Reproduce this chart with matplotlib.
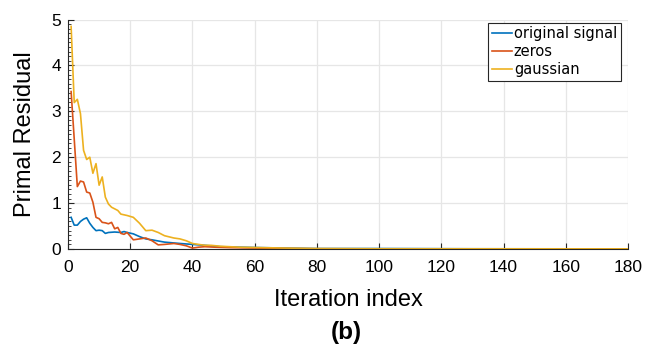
import matplotlib
matplotlib.use('Agg')
import matplotlib.pyplot as plt
from matplotlib.ticker import MultipleLocator

# Iteration index / primal residual
orig_x = [1, 2, 3, 4, 5, 6, 7, 8, 9, 10, 11, 12, 13, 15, 17, 18, 19, 21, 23, 25,
          27, 31, 36, 40, 44, 49, 55, 62, 70, 80, 100, 130, 180]
orig_y = [0.69, 0.52, 0.52, 0.60, 0.65, 0.68, 0.56, 0.47, 0.40, 0.41, 0.40, 0.34,
          0.36, 0.37, 0.36, 0.38, 0.36, 0.33, 0.27, 0.22, 0.20, 0.15, 0.12, 0.10,
          0.08, 0.05, 0.04, 0.03, 0.02, 0.01, 0.01, 0.005, 0.003]

zeros_x = [1, 3, 4, 5, 6, 7, 8, 9, 10, 11, 12, 13, 14, 15, 16, 17, 18, 19, 21, 23,
           25, 27, 29, 31, 34, 36, 38, 40, 42, 44, 47, 52, 60, 70, 80, 100, 180]
zeros_y = [3.43, 1.36, 1.48, 1.46, 1.24, 1.22, 1.02, 0.69, 0.66, 0.58, 0.57, 0.55,
           0.58, 0.44, 0.47, 0.34, 0.32, 0.36, 0.20, 0.22, 0.24, 0.18, 0.09, 0.10,
           0.12, 0.10, 0.07, 0.02, 0.04, 0.05, 0.04, 0.03, 0.02, 0.01, 0.005,
           0.003, 0.002]

gauss_x = [1, 2, 3, 4, 5, 6, 7, 8, 9, 10, 11, 12, 13, 14, 16, 17, 19, 21, 23, 25,
           27, 29, 31, 34, 36, 38, 40, 42, 44, 46, 49, 55, 62, 70, 80, 100, 180]
gauss_y = [4.85, 3.19, 3.26, 2.95, 2.15, 1.95, 2.00, 1.65, 1.86, 1.39, 1.57, 1.13,
           0.98, 0.91, 0.84, 0.76, 0.73, 0.69, 0.56, 0.40, 0.41, 0.36, 0.29, 0.24,
           0.22, 0.18, 0.12, 0.10, 0.08, 0.08, 0.06, 0.04, 0.03, 0.02, 0.01,
           0.005, 0.003]

x_ticks = [0, 20, 40, 60, 80, 100, 120, 140, 160, 180]
y_ticks = [0, 1, 2, 3, 4, 5]

fig = plt.figure(figsize=(6.52, 3.52), dpi=100)
ax = fig.add_axes([0.1043, 0.2926, 0.8589, 0.652])

ax.plot(orig_x, orig_y, color='#0072BD', lw=1.2, label='original signal')
ax.plot(zeros_x, zeros_y, color='#D95319', lw=1.2, label='zeros')
ax.plot(gauss_x, gauss_y, color='#EDB120', lw=1.2, label='gaussian')

ax.set_xlim(0, 180)
ax.set_ylim(0, 5)
ax.set_xticks(x_ticks)
ax.set_yticks(y_ticks)
ax.yaxis.set_minor_locator(MultipleLocator(0.1))
ax.tick_params(which='both', direction='in', colors='#262626', labelcolor='black')
ax.tick_params(which='major', length=4, labelsize=12.5)
ax.tick_params(axis='x', pad=8)
ax.tick_params(axis='y', pad=5)
ax.tick_params(which='minor', length=2.5)
ax.tick_params(axis='x', which='minor', bottom=False)
for lab in ax.get_xticklabels() + ax.get_yticklabels():
    lab.set_family('Liberation Sans')

ax.grid(which='major', color='#e6e6e6', lw=0.9)
ax.set_axisbelow(True)
ax.spines['top'].set_visible(False)
ax.spines['right'].set_visible(False)
ax.spines['left'].set_color('#262626')
ax.spines['bottom'].set_color('#262626')

ax.set_xlabel('Iteration index', fontsize=17, family='Liberation Sans', labelpad=10)
ax.set_ylabel('Primal Residual', fontsize=17, family='Liberation Sans', labelpad=11)

leg = ax.legend(loc='upper right', prop={'family': 'DejaVu Sans', 'size': 10.5},
                handlelength=1.35, handletextpad=0.15, borderpad=0.25,
                labelspacing=0.2, fancybox=False, framealpha=1,
                borderaxespad=0, bbox_to_anchor=(0.987, 0.986))
leg.get_frame().set_edgecolor('#262626')
leg.get_frame().set_linewidth(0.8)

fig.text(0.531, 0.054, '(b)', fontsize=17.5, fontweight='bold',
         family='Liberation Sans', ha='center', va='center')

fig.savefig('out.png', dpi=100)
